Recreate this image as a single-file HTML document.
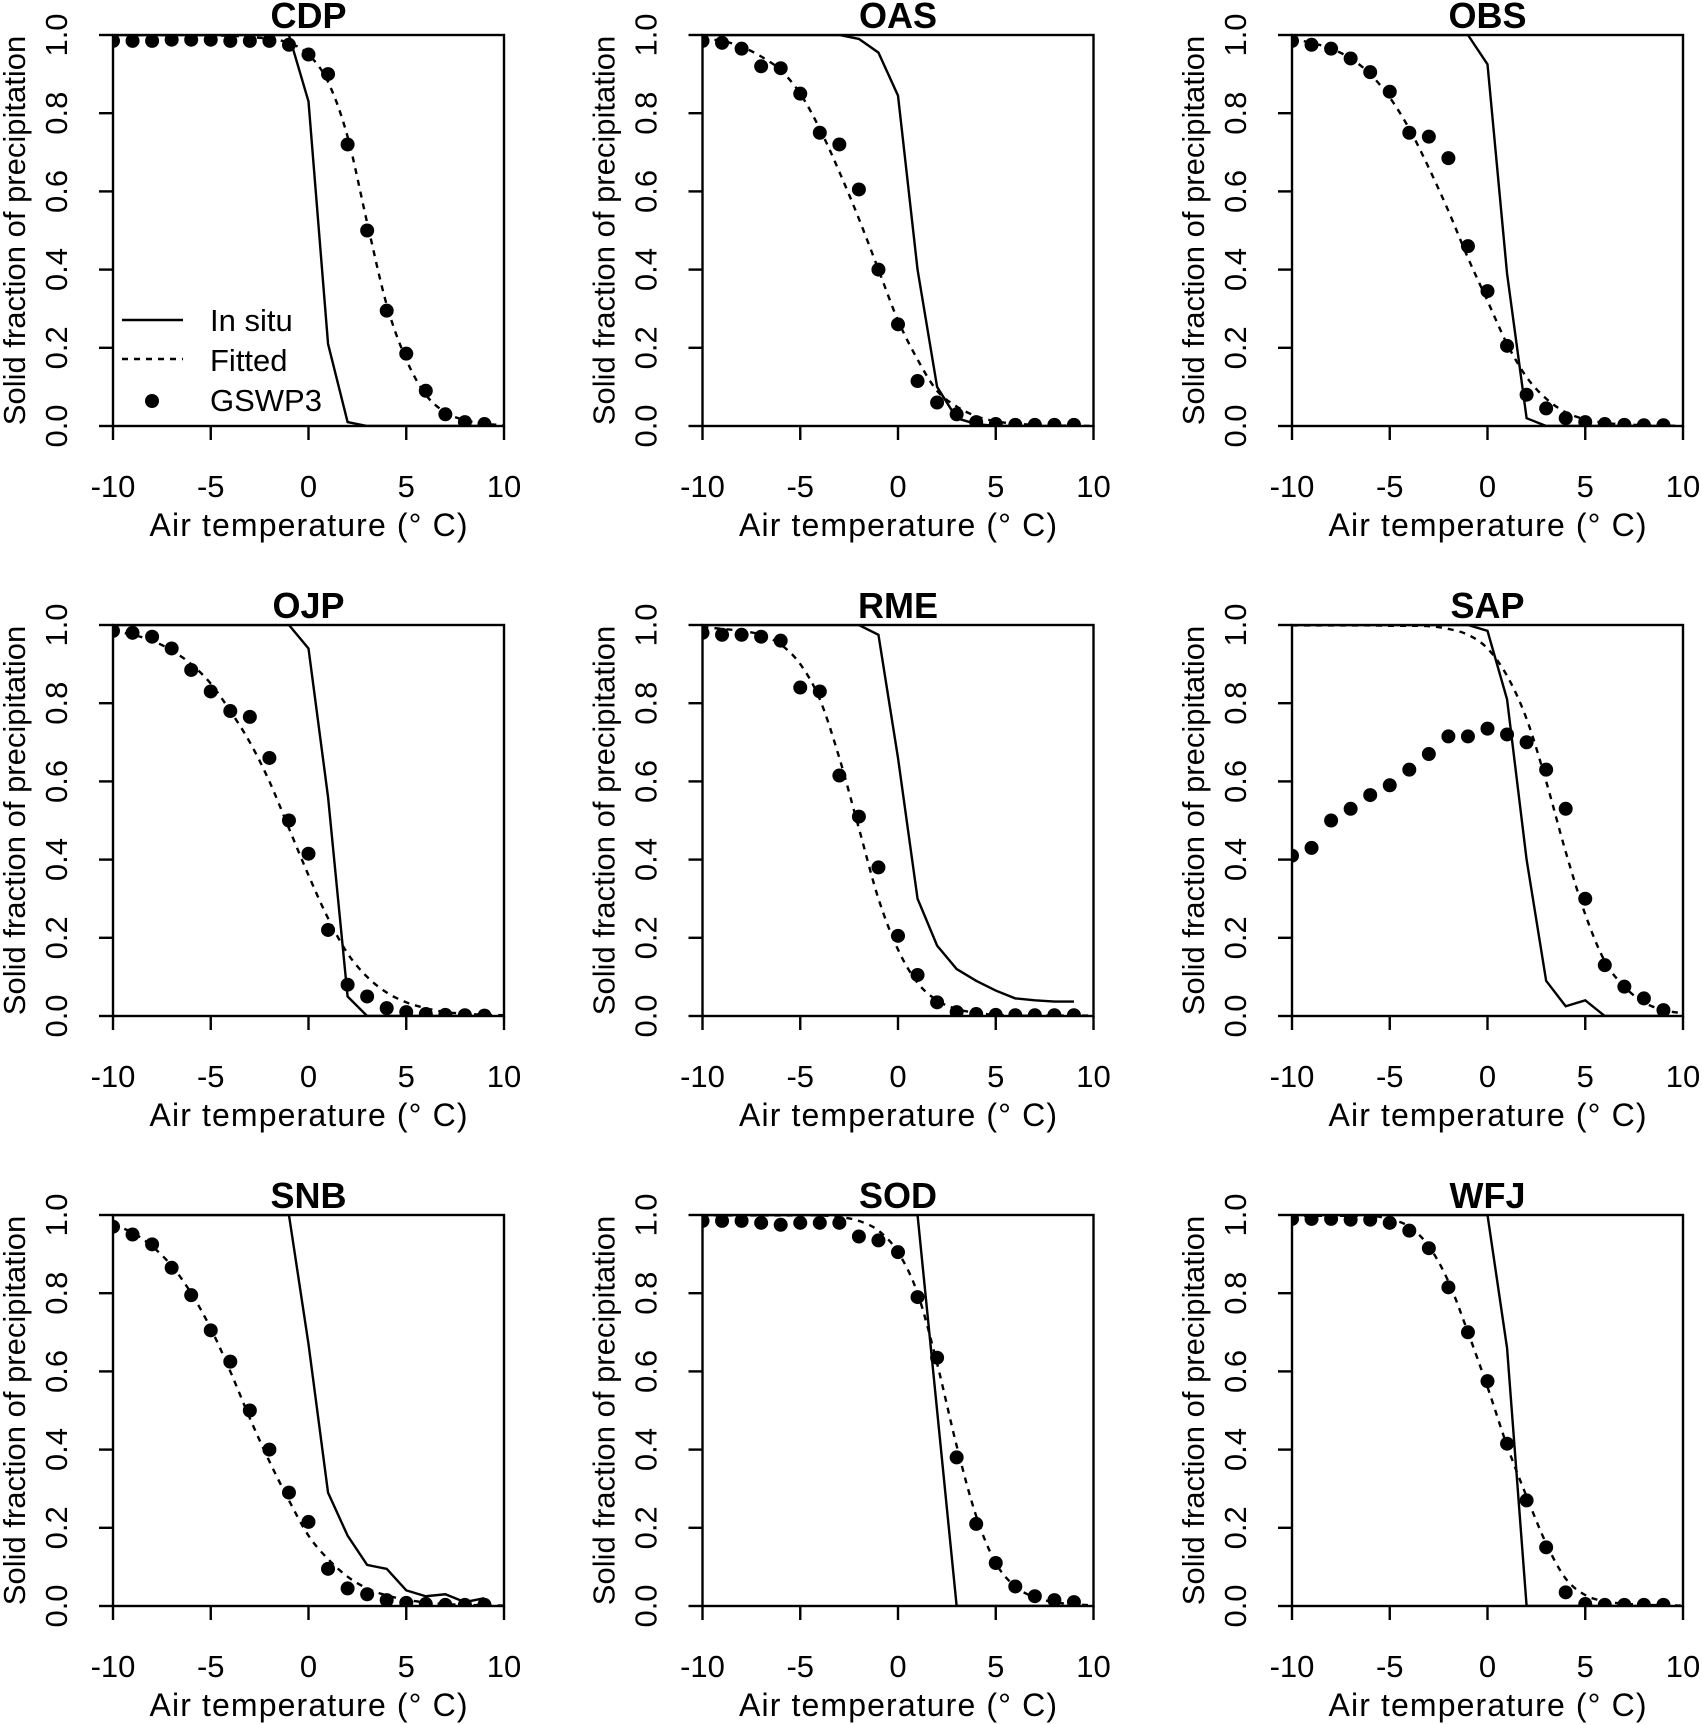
<!DOCTYPE html>
<html><head><meta charset="utf-8"><style>
body{margin:0;background:#fff}
svg{display:block;font-family:"Liberation Sans",Arial,sans-serif}
</style></head><body>
<svg id="fig" width="1702" height="1725" viewBox="0 0 1702 1725" xmlns="http://www.w3.org/2000/svg"></svg>
<script>
const temps = [-10,-9,-8,-7,-6,-5,-4,-3,-2,-1,0,1,2,3,4,5,6,7,8,9,10];
const xTicks = [-10,-5,0,5,10];
const yTicks = [0,0.2,0.4,0.6,0.8,1.0];
const yTickLabels = ["0.0","0.2","0.4","0.6","0.8","1.0"];
const sites = ["CDP","OAS","OBS","OJP","RME","SAP","SNB","SOD","WFJ"];

// GSWP3 points at -10..9
const gswp3 = {
CDP:[0.985,0.985,0.985,0.988,0.988,0.988,0.985,0.985,0.985,0.975,0.95,0.9,0.72,0.5,0.295,0.185,0.09,0.03,0.01,0.005],
OAS:[0.985,0.98,0.965,0.92,0.915,0.85,0.75,0.72,0.605,0.4,0.26,0.115,0.06,0.03,0.01,0.005,0.003,0.003,0.003,0.003],
OBS:[0.985,0.975,0.965,0.94,0.905,0.855,0.75,0.74,0.685,0.46,0.345,0.205,0.08,0.045,0.02,0.01,0.005,0.003,0.002,0.002],
OJP:[0.985,0.98,0.97,0.94,0.885,0.83,0.78,0.765,0.66,0.5,0.415,0.22,0.08,0.05,0.02,0.01,0.005,0.003,0.002,0.001],
RME:[0.98,0.975,0.975,0.97,0.96,0.84,0.83,0.615,0.51,0.38,0.205,0.105,0.035,0.01,0.005,0.003,0.002,0.002,0.002,0.002],
SAP:[0.41,0.43,0.5,0.53,0.565,0.59,0.63,0.67,0.715,0.715,0.735,0.72,0.7,0.63,0.53,0.3,0.13,0.075,0.045,0.015],
SNB:[0.97,0.95,0.925,0.865,0.795,0.705,0.625,0.5,0.4,0.29,0.215,0.095,0.045,0.03,0.015,0.008,0.005,0.003,0.003,0.003],
SOD:[0.985,0.985,0.985,0.98,0.975,0.98,0.98,0.98,0.945,0.935,0.905,0.79,0.635,0.38,0.21,0.11,0.05,0.025,0.015,0.01],
WFJ:[0.99,0.99,0.99,0.988,0.988,0.98,0.96,0.915,0.815,0.7,0.575,0.415,0.27,0.15,0.035,0.005,0.003,0.003,0.003,0.003]
};
// Fitted curve values at -10..10
const fitted = {
CDP:[1,1,1,1,1,0.999,0.998,0.995,0.99,0.98,0.95,0.88,0.74,0.52,0.31,0.17,0.08,0.035,0.015,0.006,0.002],
OAS:[0.99,0.985,0.97,0.945,0.91,0.85,0.76,0.65,0.53,0.4,0.27,0.17,0.09,0.05,0.025,0.012,0.006,0.003,0.001,0.001,0],
OBS:[0.99,0.98,0.965,0.94,0.9,0.84,0.76,0.66,0.55,0.43,0.32,0.21,0.125,0.07,0.035,0.017,0.008,0.004,0.002,0.001,0],
OJP:[0.985,0.975,0.96,0.935,0.9,0.85,0.78,0.7,0.6,0.48,0.36,0.25,0.16,0.1,0.06,0.035,0.02,0.01,0.006,0.003,0.002],
RME:[0.995,0.99,0.985,0.975,0.95,0.9,0.81,0.66,0.48,0.3,0.17,0.085,0.04,0.018,0.008,0.003,0.001,0.001,0.001,0.001,0.001],
SAP:[0.999,0.999,0.999,0.999,0.999,0.998,0.998,0.997,0.99,0.975,0.94,0.87,0.76,0.6,0.42,0.26,0.14,0.075,0.035,0.015,0.007],
SNB:[0.975,0.955,0.92,0.87,0.8,0.71,0.6,0.48,0.37,0.27,0.18,0.12,0.075,0.045,0.027,0.016,0.009,0.005,0.003,0.002,0.001],
SOD:[0.999,0.999,0.999,0.999,0.999,0.999,0.999,0.995,0.985,0.96,0.905,0.8,0.62,0.41,0.23,0.11,0.05,0.022,0.01,0.004,0.002],
WFJ:[0.998,0.998,0.998,0.998,0.998,0.99,0.97,0.92,0.83,0.7,0.56,0.41,0.28,0.16,0.07,0.028,0.012,0.006,0.003,0.002,0.001]
};
// In situ values at -10..9
const insitu = {
CDP:[1,1,1,1,1,1,1,1,1,1,0.83,0.21,0.01,0,0,0,0,0,0,0],
OAS:[1,1,1,1,1,1,1,1,0.99,0.955,0.845,0.4,0.1,0.02,0.005,0,0,0,0,0],
OBS:[1,1,1,1,1,1,1,1,1,1,0.925,0.39,0.02,0,0,0,0,0,0,0],
OJP:[1,1,1,1,1,1,1,1,1,1,0.94,0.56,0.05,0,0,0,0,0,0,0],
RME:[1,1,1,1,1,1,1,1,1,0.975,0.66,0.3,0.18,0.12,0.09,0.065,0.045,0.04,0.037,0.037],
SAP:[1,1,1,1,1,1,1,1,1,1,0.985,0.81,0.4,0.09,0.025,0.04,0,0,0,0],
SNB:[1,1,1,1,1,1,1,1,1,1,0.67,0.29,0.18,0.105,0.095,0.04,0.025,0.03,0.01,0.02],
SOD:[1,1,1,1,1,1,1,1,1,1,1,1,0.5,0,0,0,0,0,0,0],
WFJ:[1,1,1,1,1,1,1,1,1,1,1,0.66,0,0,0,0,0,0,0,0]
};

const NS="http://www.w3.org/2000/svg";
const svg=document.getElementById('fig');
function mk(tag,attrs,parent){const e=document.createElementNS(NS,tag);for(const k in attrs)e.setAttribute(k,attrs[k]);parent.appendChild(e);return e;}
const W=391,H=391;
function smooth(pts){let d=`M${pts[0][0]},${pts[0][1]}`;for(let i=0;i<pts.length-1;i++){const p0=pts[Math.max(0,i-1)],p1=pts[i],p2=pts[i+1],p3=pts[Math.min(pts.length-1,i+2)];
d+=` C${p1[0]+(p2[0]-p0[0])/6},${p1[1]+(p2[1]-p0[1])/6} ${p2[0]-(p3[0]-p1[0])/6},${p2[1]-(p3[1]-p1[1])/6} ${p2[0]},${p2[1]}`;}return d;}

sites.forEach((s,i)=>{
  const c=i%3,r=Math.floor(i/3);
  const L=113+c*589.5,T=35+r*590,B=T+H,R=L+W;
  const xs=v=>L+(v+10)/20*W, ys=v=>B-v*H;
  const g=mk('g',{},svg);
  
  
  const cid='clip'+i;
  const cp=mk('clipPath',{id:cid},g);mk('rect',{x:L,y:T,width:W,height:H},cp);
  const t=mk('text',{x:L+W/2,y:T-7,'text-anchor':'middle','font-size':36,'font-weight':'bold'},g);t.textContent=s;
  
  
  const dg=mk('g',{'clip-path':`url(#${cid})`},g);
  const ip=insitu[s].map((v,k)=>`${xs(temps[k])},${ys(v)}`).join(' ');
  const l1=mk('polyline',{points:ip,fill:'none',stroke:'#000','stroke-width':2.4},dg);
  
  
  const fp=fitted[s].map((v,k)=>[xs(temps[k]),ys(v)]);
  const l2=mk('path',{d:smooth(fp),fill:'none',stroke:'#000','stroke-width':2.4,'stroke-dasharray':'6,6'},dg);
  
  
  gswp3[s].forEach((v,k)=>{const p=mk('circle',{cx:xs(temps[k]),cy:ys(v),r:7,fill:'#000'},dg);
    
    });
  const bx=mk('rect',{x:L,y:T,width:W,height:H,fill:'none',stroke:'#000','stroke-width':2.4},g);
  
  
  xTicks.forEach(v=>{mk('line',{x1:xs(v),x2:xs(v),y1:B,y2:B+14,stroke:'#000','stroke-width':2.4},g);
    const tl=mk('text',{x:xs(v),y:B+71,'text-anchor':'middle','font-size':31},g);tl.textContent=v;
    
    });
  const xt=mk('text',{x:L+W/2-159,y:B+110,'font-size':32,textLength:318,lengthAdjust:'spacing'},g);xt.textContent='Air temperature (° C)';
  
  
  yTicks.forEach((v,k)=>{mk('line',{x1:L-14,x2:L,y1:ys(v),y2:ys(v),stroke:'#000','stroke-width':2.4},g);
    const tl=mk('text',{x:0,y:0,'text-anchor':'middle','font-size':31,transform:`translate(${L-46},${ys(v)}) rotate(-90)`},g);tl.textContent=yTickLabels[k];
    
    });
  const yt=mk('text',{x:0,y:0,'text-anchor':'middle','font-size':31,transform:`translate(${L-88},${T+H/2}) rotate(-90)`},g);yt.textContent='Solid fraction of precipitation';
  
  
  if(i===0){
    const lg=mk('g',{},g);
    
    
    mk('line',{x1:122,x2:183,y1:320,y2:320,stroke:'#000','stroke-width':2.4},lg);
    mk('line',{x1:122,x2:183,y1:359,y2:359,stroke:'#000','stroke-width':2.4,'stroke-dasharray':'6,6'},lg);
    mk('circle',{cx:152,cy:401,r:7,fill:'#000'},lg);
    [['In situ',331],['Fitted',371],['GSWP3',411]].forEach(([txt,y])=>{const e=mk('text',{x:210,y:y,'font-size':31},lg);e.textContent=txt;
      
      });
  }
});
</script>
</body></html>
